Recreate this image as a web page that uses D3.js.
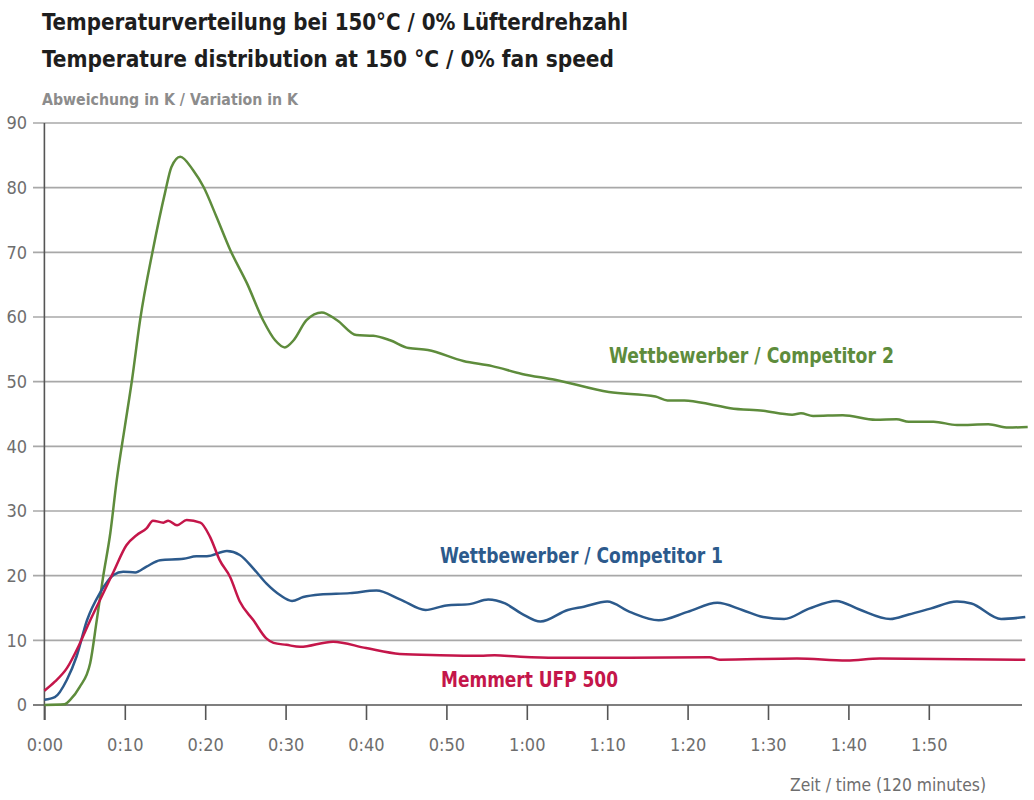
<!DOCTYPE html>
<html>
<head>
<meta charset="utf-8">
<script src="https://cdn.jsdelivr.net/npm/d3@7"></script>
<style>
  body { margin: 0; background: #fff; }
  svg text { font-family: "DejaVu Sans Condensed", "Liberation Sans Narrow", "DejaVu Sans", sans-serif; font-stretch: condensed; }
  .title { font-size: 23px; font-weight: bold; fill: #1e1e1e; }
  .ylabel { font-size: 15px; font-weight: bold; fill: #8c8c8c; }
  .tick-label { font-size: 18px; fill: #6e6e6e; }
  .series-label { font-size: 22px; font-weight: bold; }
</style>
</head>
<body>
<svg id="chart" width="1034" height="800"></svg>
<script>
// minutes since start
const greenTime = [0, 2.5, 3.2, 4.4, 5.7, 6.5, 7.3, 8.2, 9, 10, 10.9, 11.9, 13.5, 15, 15.8, 16.9, 18.5, 19.8, 21.4, 23.1, 25.2, 27.2, 28.7, 29.9, 31, 32.6, 34.5, 36.4, 38.8, 40.9, 43, 45.3, 47.7, 52.1, 55.7, 59.4, 63.5, 70.2, 76, 77.5, 79.6, 83.2, 85.3, 89.4, 93, 94.1, 95.6, 99.3, 103.4, 106, 107.5, 110.6, 113.5, 117.4, 119.9, 122.3];
const greenValues = [0, 0.1, 0.8, 2.8, 6.5, 13, 19.8, 26.6, 34.8, 43, 50.3, 59.5, 70.4, 79.2, 83.2, 84.8, 82.7, 80.1, 75.5, 70.4, 65.2, 59.5, 56.4, 55.3, 56.4, 59.5, 60.7, 59.5, 57.2, 57.1, 56.4, 55.2, 54.9, 53.2, 52.4, 51.2, 50.3, 48.4, 47.7, 47.1, 47.1, 46.4, 45.9, 45.5, 44.9, 45.1, 44.7, 44.8, 44.1, 44.2, 43.8, 43.8, 43.3, 43.4, 42.9, 43.0];

const blueTime = [0, 1.3, 2.8, 4, 5.3, 6.9, 8.6, 9.8, 11.3, 12.7, 14.4, 17.3, 18.9, 20.2, 22.7, 24.3, 26, 27.6, 29.3, 30.8, 32.2, 34.3, 38, 41.3, 44.3, 47.4, 50, 52.9, 55.2, 57.3, 59.4, 61.7, 65.1, 67.1, 70, 72.8, 76.4, 80, 83.7, 86.8, 89.4, 92, 95.1, 98.5, 101.3, 105.2, 107.5, 110.2, 113.5, 115.3, 119, 122];
const blueValues = [0.8, 1.2, 3.9, 7.5, 13.1, 17.3, 20.1, 20.6, 20.5, 21.4, 22.4, 22.6, 23.0, 23.0, 23.8, 23.2, 21.1, 18.8, 17.0, 16.1, 16.7, 17.1, 17.3, 17.7, 16.3, 14.7, 15.4, 15.6, 16.3, 15.7, 14.1, 12.9, 14.7, 15.2, 16.0, 14.4, 13.1, 14.4, 15.8, 14.7, 13.6, 13.3, 14.9, 16.1, 14.8, 13.3, 14.0, 14.9, 16.0, 15.7, 13.3, 13.6];

const redTime = [0, 1.3, 2.8, 4.4, 5.7, 6.9, 8.6, 10.2, 11.5, 12.7, 13.5, 14.8, 15.4, 16.5, 17.7, 19.4, 20.6, 21.8, 23.1, 24.3, 26, 27.6, 28.5, 30.1, 31.8, 35.9, 40, 44.2, 49.2, 54.2, 56, 58.8, 63.5, 72.8, 82.7, 84, 93.6, 99.8, 103.9, 122];
const redValues = [2.2, 3.6, 5.7, 9.5, 13.1, 16.2, 20.6, 24.7, 26.3, 27.3, 28.5, 28.2, 28.5, 27.8, 28.6, 28.2, 26.0, 22.4, 19.8, 16.0, 13.1, 10.3, 9.6, 9.3, 9.0, 9.8, 8.8, 7.9, 7.7, 7.6, 7.7, 7.5, 7.3, 7.3, 7.4, 7.0, 7.2, 6.9, 7.2, 7.0];

const yTicks = [0, 10, 20, 30, 40, 50, 60, 70, 80, 90];
const xTicks = [0, 10, 20, 30, 40, 50, 60, 70, 80, 90, 100, 110];
const xTickLabels = ["0:00", "0:10", "0:20", "0:30", "0:40", "0:50", "1:00", "1:10", "1:20", "1:30", "1:40", "1:50"];

const titleLines = [
  "Temperaturverteilung bei 150°C / 0% Lüfterdrehzahl",
  "Temperature distribution at 150 °C / 0% fan speed",
];
const yAxisTitle = "Abweichung in K / Variation in K";
const xAxisTitle = "Zeit / time (120 minutes)";

const seriesNames = ["Wettbewerber / Competitor 2", "Wettbewerber / Competitor 1", "Memmert UFP 500"];

const svg = d3.select("#chart");

const x = d3.scaleLinear().domain([0, 120]).range([44.4, 1009.2]);
const y = d3.scaleLinear().domain([0, 90]).range([705, 123]);
const gridRight = 1022;
const gridLeft = 33;

// titles
svg.append("text").attr("class", "title").attr("x", 42).attr("y", 30)
  .attr("textLength", 586).attr("lengthAdjust", "spacingAndGlyphs").text(titleLines[0]);
svg.append("text").attr("class", "title").attr("x", 42).attr("y", 67)
  .attr("textLength", 572).attr("lengthAdjust", "spacingAndGlyphs").text(titleLines[1]);
svg.append("text").attr("class", "ylabel").attr("x", 42).attr("y", 105)
  .attr("textLength", 256).attr("lengthAdjust", "spacingAndGlyphs").text(yAxisTitle);

// horizontal grid
svg.append("g")
  .selectAll("line")
  .data(yTicks.filter((d) => d > 0))
  .join("line")
  .attr("x1", gridLeft)
  .attr("x2", gridRight)
  .attr("y1", (d) => y(d))
  .attr("y2", (d) => y(d))
  .attr("stroke", "#a8a8a8")
  .attr("stroke-width", 1.6);

// y tick labels
svg.append("g")
  .selectAll("text")
  .data(yTicks)
  .join("text")
  .attr("class", "tick-label")
  .attr("x", 27)
  .attr("y", (d) => y(d))
  .attr("dy", "0.35em")
  .attr("text-anchor", "end")
  .text((d) => d);

// bottom axis with D3, restyled
const xAxis = svg.append("g")
  .attr("transform", `translate(0,${y(0)})`)
  .call(
    d3.axisBottom(x)
      .tickValues(xTicks)
      .tickFormat((d, i) => xTickLabels[i])
      .tickSize(15)
      .tickPadding(18)
  );
xAxis.select(".domain").attr("d", `M${gridLeft},0H${gridRight}`).attr("stroke", "#555").attr("stroke-width", 1.6);
xAxis.selectAll(".tick line").attr("stroke", "#555").attr("stroke-width", 1.6);
xAxis.selectAll(".tick text").attr("class", "tick-label").attr("font-family", null).attr("font-size", null).attr("fill", null);

// y axis line
svg.append("line")
  .attr("x1", x(0)).attr("x2", x(0))
  .attr("y1", y(90)).attr("y2", y(0) + 15)
  .attr("stroke", "#555").attr("stroke-width", 1.6);

svg.append("text").attr("class", "tick-label").attr("x", 790).attr("y", 791)
  .attr("textLength", 196).attr("lengthAdjust", "spacingAndGlyphs").text(xAxisTitle);

const line = d3.line()
  .x((d) => x(d[0]))
  .y((d) => y(d[1]))
  .curve(d3.curveMonotoneX);

const series = [
  { time: greenTime, values: greenValues, color: "#5e8c3c" },
  { time: blueTime, values: blueValues, color: "#2c5a8c" },
  { time: redTime, values: redValues, color: "#c4164a" },
];

svg.append("g")
  .selectAll("path")
  .data(series)
  .join("path")
  .attr("fill", "none")
  .attr("stroke", (d) => d.color)
  .attr("stroke-width", 2.5)
  .attr("stroke-linejoin", "round")
  .attr("d", (d) => line(d.time.map((t, i) => [t, d.values[i]])));

// series labels
const labelPos = [
  { x: 609, y: 363, len: 285 },
  { x: 440, y: 563, len: 283 },
  { x: 441, y: 687, len: 177 },
];
svg.append("g")
  .selectAll("text")
  .data(seriesNames)
  .join("text")
  .attr("class", "series-label")
  .attr("x", (d, i) => labelPos[i].x)
  .attr("y", (d, i) => labelPos[i].y)
  .attr("textLength", (d, i) => labelPos[i].len)
  .attr("lengthAdjust", "spacingAndGlyphs")
  .attr("fill", (d, i) => series[i].color)
  .text((d) => d);
</script>
</body>
</html>
